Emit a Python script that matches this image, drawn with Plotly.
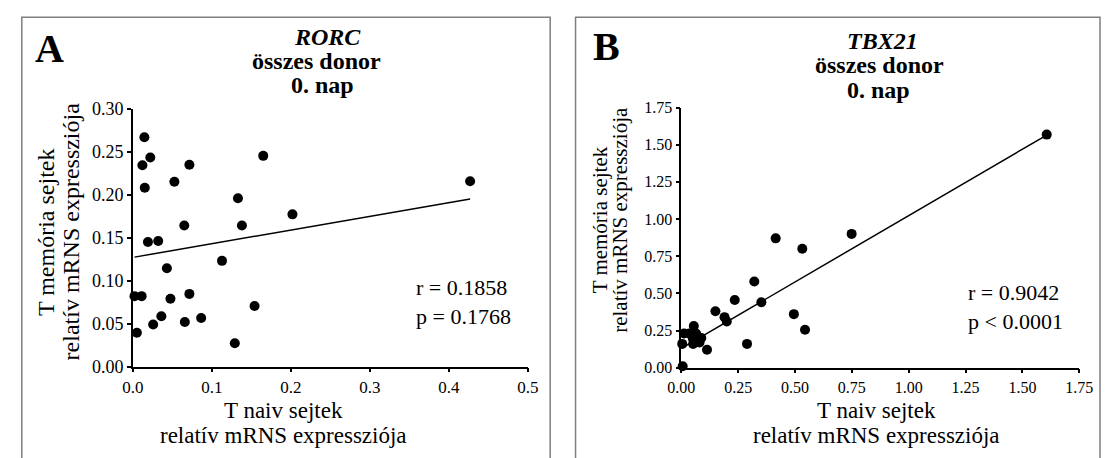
import plotly.graph_objects as go
import numpy as np

# ---- Data ----
rorc_naive = [0.002, 0.011, 0.005, 0.0145, 0.012, 0.022, 0.015, 0.019, 0.032, 0.043,
              0.0475, 0.036, 0.0256, 0.0525, 0.0715, 0.065, 0.0715, 0.0657, 0.0864, 0.1128,
              0.133, 0.138, 0.129, 0.154, 0.165, 0.202, 0.427]
rorc_memory = [0.082, 0.082, 0.0395, 0.2667, 0.234, 0.243, 0.208, 0.145, 0.146, 0.1145,
               0.079, 0.0587, 0.049, 0.215, 0.2346, 0.164, 0.0846, 0.052, 0.0565, 0.123,
               0.1958, 0.164, 0.0273, 0.0706, 0.245, 0.177, 0.2154]
rorc_fit = [0.127, 0.159]  # intercept, slope of the regression line
rorc_stats = ["r = 0.1858", "p = 0.1768"]

tbx21_naive = [0.006, 0.004, 0.012, 0.035, 0.055, 0.050, 0.052, 0.065, 0.074, 0.080,
               0.088, 0.060, 0.113, 0.150, 0.190, 0.200, 0.235, 0.289, 0.321, 0.352,
               0.415, 0.495, 0.532, 0.544, 0.749, 1.607]
tbx21_memory = [0.01, 0.16, 0.23, 0.23, 0.28, 0.20, 0.16, 0.23, 0.18, 0.17,
                0.20, 0.19, 0.12, 0.38, 0.34, 0.31, 0.455, 0.16, 0.58, 0.44,
                0.87, 0.36, 0.80, 0.255, 0.90, 1.568]
tbx21_fit = [0.13, 0.893]
tbx21_stats = ["r = 0.9042", "p < 0.0001"]

rorc_xticks = [0.0, 0.1, 0.2, 0.3, 0.4, 0.5]
rorc_yticks = [0.00, 0.05, 0.10, 0.15, 0.20, 0.25, 0.30]
tbx21_ticks = [0.00, 0.25, 0.50, 0.75, 1.00, 1.25, 1.50, 1.75]

FONT = "Liberation Serif, Times New Roman, serif"
W, H = 1115, 458


def px_x(p):
    return p / W


def px_y(p):
    return 1 - p / H


fig = go.Figure()

for naive, mem, fit, xa, ya in [
    (rorc_naive, rorc_memory, rorc_fit, "x", "y"),
    (tbx21_naive, tbx21_memory, tbx21_fit, "x2", "y2"),
]:
    fig.add_trace(go.Scatter(x=naive, y=mem, mode="markers", xaxis=xa, yaxis=ya,
                             marker=dict(color="black", size=10), cliponaxis=False,
                             showlegend=False, hoverinfo="x+y"))
    lx = np.array([min(naive), max(naive)])
    fig.add_trace(go.Scatter(x=lx, y=fit[0] + fit[1] * lx, mode="lines", xaxis=xa, yaxis=ya,
                             line=dict(color="black", width=1.5), cliponaxis=False,
                             showlegend=False, hoverinfo="skip"))

axis_common = dict(showline=True, linecolor="black", linewidth=1.5, ticks="outside",
                   ticklen=4, tickwidth=1.5, tickcolor="black", showgrid=False,
                   zeroline=False, mirror=False)

fig.update_layout(
    width=W, height=H, margin=dict(l=0, r=0, t=0, b=0),
    paper_bgcolor="white", plot_bgcolor="white",
    font=dict(family=FONT, color="black"),
    xaxis=dict(domain=[px_x(122), px_x(527)], range=[0, 0.5], tickvals=rorc_xticks,
               tickformat=".1f", anchor="y", tickfont=dict(size=17, family=FONT), **axis_common),
    yaxis=dict(domain=[px_y(373), px_y(103)], range=[0, 0.30], tickvals=rorc_yticks,
               tickformat=".2f", anchor="x", tickfont=dict(size=18, family=FONT), **axis_common),
    xaxis2=dict(domain=[px_x(684.5), px_x(1092.7)], range=[0, 1.75], tickvals=tbx21_ticks,
                tickformat=".2f", anchor="y2", tickfont=dict(size=16, family=FONT), **axis_common),
    yaxis2=dict(domain=[px_y(374), px_y(102)], range=[0, 1.75], tickvals=tbx21_ticks,
                tickformat=".2f", anchor="x2", tickfont=dict(size=16, family=FONT), **axis_common),
)

# Panel frames (open at the bottom)
for x0, x1 in [(8, 550), (576, 1114)]:
    fig.add_shape(type="path", xref="paper", yref="paper",
                  path=f"M {px_x(x0)},{px_y(470)} L {px_x(x0)},{px_y(7.5)} L {px_x(x1)},{px_y(7.5)} L {px_x(x1)},{px_y(470)}",
                  line=dict(color="#7f7f7f", width=1.5))

ann = []


def add(text, x, y, size, **kw):
    d = dict(text=text, x=px_x(x), y=px_y(y), xref="paper", yref="paper",
             showarrow=False, font=dict(family=FONT, size=size, color="black"),
             xanchor="center", yanchor="middle")
    d.update(kw)
    ann.append(d)


# Panel A
add("<b>A</b>", 36, 40, 40)
add("<b><i>RORC</i></b>", 322, 28, 24)
add("<b>összes donor</b>", 310, 53, 24)
add("<b>0. nap</b>", 316, 78, 24)
add("T memória sejtek", 33, 232, 24, textangle=-90)
add("relatív mRNS expressziója", 58, 232, 24, textangle=-90)
add("T naiv sejtek", 276, 419, 23)
add("relatív mRNS expressziója", 276, 445, 23)
add(rorc_stats[0] + "<br>" + rorc_stats[1], 410, 305, 22, xanchor="left", align="left")

# Panel B
add("<b>B</b>", 608, 38, 40)
add("<b><i>TBX21</i></b>", 891, 32, 24)
add("<b>összes donor</b>", 888, 58, 24)
add("<b>0. nap</b>", 887, 84, 24)
add("T memória sejtek", 602, 219, 21, textangle=-90)
add("relatív mRNS expressziója", 622, 219, 21, textangle=-90)
add("T naiv sejtek", 885, 419, 23)
add("relatív mRNS expressziója", 885, 445, 23)
add(tbx21_stats[0] + "<br>" + tbx21_stats[1], 977, 311, 22, xanchor="left", align="left")

fig.update_layout(annotations=ann)

fig.write_html("out.html")
